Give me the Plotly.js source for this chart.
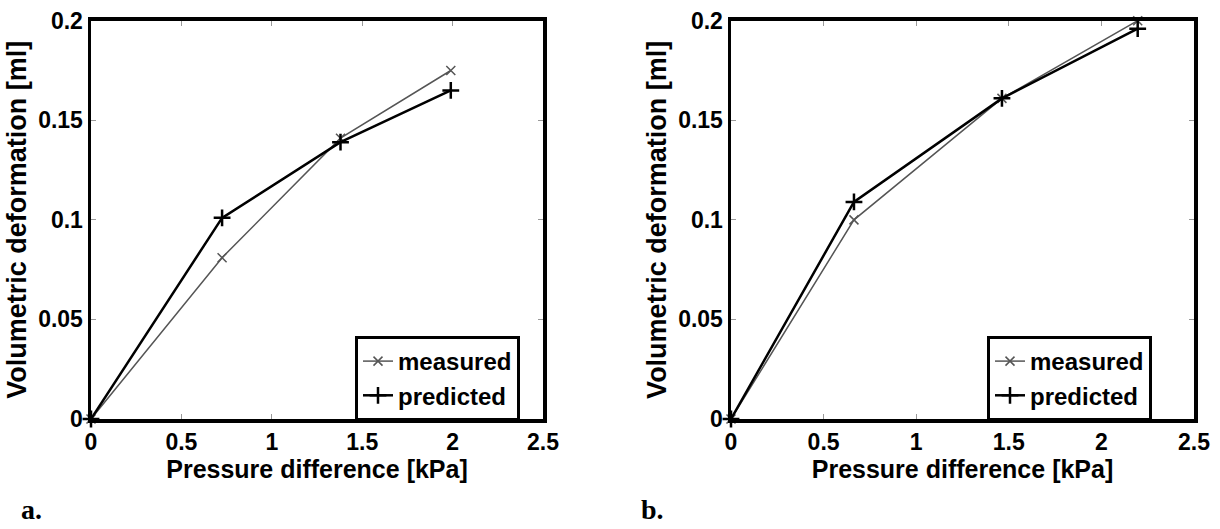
<!DOCTYPE html>
<html>
<head>
<meta charset="utf-8">
<script src="https://cdn.plot.ly/plotly-3.0.1.min.js"></script>
<style>html,body{margin:0;padding:0;background:#fff;}#chart{width:1220px;height:529px;}</style>
</head>
<body>
<div id="chart"></div>
<script>
// Panel a
const aPressure = [0, 0.725, 1.38, 1.99];
const aMeasured = [0, 0.081, 0.141, 0.175];
const aPredicted = [0, 0.101, 0.139, 0.165];
// Panel b
const bPressure = [0, 0.664, 1.463, 2.196];
const bMeasured = [0, 0.1, 0.161, 0.2];
const bPredicted = [0, 0.109, 0.161, 0.196];
const seriesNames = ["measured", "predicted"];
const xTicks = [0, 0.5, 1, 1.5, 2, 2.5];
const xTickText = ["0", "0.5", "1", "1.5", "2", "2.5"];
const yTicks = [0, 0.05, 0.1, 0.15, 0.2];
const yTickText = ["0", "0.05", "0.1", "0.15", "0.2"];
const xTitle = "Pressure difference [kPa]";
const yTitle = "Volumetric deformation [ml]";
const panelLabels = ["a.", "b."];

const W = 1220, H = 529;
const FAM = "Liberation Sans, Arial, sans-serif";
const font = {family: FAM, size: 22, color: "#000"};
const measStyle = {line: {color: "#555", width: 1.5}, marker: {symbol: "x-thin", size: 9, line: {color: "#555", width: 1.5}}};
const predStyle = {line: {color: "#000", width: 2.5}, marker: {symbol: "cross-thin", size: 12, line: {color: "#000", width: 2.5}}};

function tr(x, y, name, style, xa, ya, lg) {
  return Object.assign({x: x, y: y, name: name, mode: "lines+markers", type: "scatter",
    xaxis: xa, yaxis: ya, legend: lg, cliponaxis: false}, style);
}
const data = [
  tr(aPressure, aMeasured, seriesNames[0], measStyle, "x", "y", "legend"),
  tr(aPressure, aPredicted, seriesNames[1], predStyle, "x", "y", "legend"),
  tr(bPressure, bMeasured, seriesNames[0], measStyle, "x2", "y2", "legend2"),
  tr(bPressure, bPredicted, seriesNames[1], predStyle, "x2", "y2", "legend2")
];

function xa(dom, anchor) {
  return {domain: dom, anchor: anchor, range: [0, 2.5], tickvals: xTicks, ticktext: xTickText,
    ticks: "inside", ticklen: 5, tickcolor: "#999", tickwidth: 1, showline: true, linewidth: 3.5,
    linecolor: "#000", mirror: "ticks", showgrid: false, zeroline: false,
    tickfont: {family: FAM, size: 23, color: "#000", weight: "bold"},
    title: {text: xTitle, font: {family: FAM, size: 25, color: "#000", weight: "bold"}, standoff: 0}};
}
function ya(dom, anchor) {
  return {domain: dom, anchor: anchor, range: [0, 0.2], tickvals: yTicks, ticktext: yTickText,
    ticks: "inside", ticklen: 5, tickcolor: "#999", tickwidth: 1, showline: true, linewidth: 3.5,
    linecolor: "#000", mirror: "ticks", showgrid: false, zeroline: false,
    tickfont: {family: FAM, size: 23, color: "#000", weight: "bold"},
    title: {text: yTitle, font: {family: FAM, size: 27, color: "#000", weight: "bold"}, standoff: 4}};
}
const yDom = [1 - 419 / H, 1 - 20.7 / H];
function lg(x) {
  return {x: x, y: 1 - 336 / H, xanchor: "left", yanchor: "top", bgcolor: "#fff",
    bordercolor: "#000", borderwidth: 3, font: {family: FAM, size: 24, color: "#000", weight: "bold"},
    tracegroupgap: 0, itemwidth: 30};
}
const labelFont = {family: "Liberation Serif, Times New Roman, serif", size: 28, color: "#000", weight: "bold"};
const layout = {
  width: W, height: H, margin: {l: 0, r: 0, t: 0, b: 0},
  paper_bgcolor: "#fff", plot_bgcolor: "#fff", showlegend: true,
  font: font,
  xaxis: xa([91 / W, 543 / W], "y"),
  yaxis: ya(yDom, "x"),
  xaxis2: xa([731 / W, 1194 / W], "y2"),
  yaxis2: ya(yDom, "x2"),
  legend: lg(355 / W),
  legend2: lg(987 / W),
  annotations: [
    {text: panelLabels[0], xref: "paper", yref: "paper", x: 19 / W, y: 1 - 509 / H, xanchor: "left", yanchor: "middle",
      showarrow: false, font: labelFont},
    {text: panelLabels[1], xref: "paper", yref: "paper", x: 639 / W, y: 1 - 509 / H, xanchor: "left", yanchor: "middle",
      showarrow: false, font: labelFont}
  ]
};
Plotly.newPlot("chart", data, layout, {displayModeBar: false, staticPlot: true});
</script>
</body>
</html>
